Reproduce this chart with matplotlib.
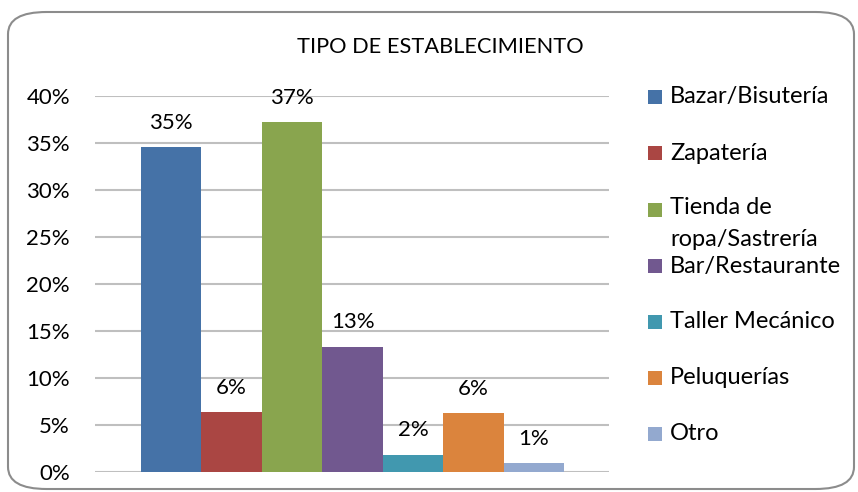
import matplotlib
matplotlib.use("Agg")
import matplotlib.pyplot as plt
from matplotlib.patches import FancyBboxPatch, Rectangle
from matplotlib.ticker import PercentFormatter

categories = ["Bazar/Bisutería", "Zapatería", "Tienda de\nropa/Sastrería",
              "Bar/Restaurante", "Taller Mecánico", "Peluquerías", "Otro"]
values = [34.5, 6.3, 37.2, 13.3, 1.8, 6.2, 0.9]
labels = ["35%", "6%", "37%", "13%", "2%", "6%", "1%"]
colors = ["#4572A7", "#AA4643", "#89A54E", "#71588F", "#4198AF", "#DB843D", "#93A9CF"]
yticks = [0, 5, 10, 15, 20, 25, 30, 35, 40]
title = "TIPO DE ESTABLECIMIENTO"

plt.rcParams['font.family'] = ['Lato', 'DejaVu Sans']
FS = 16
FS_LEG = 17
FS_TITLE = 15.7

W, H = 858, 492
fig = plt.figure(figsize=(W / 100, H / 100), dpi=100)

# rounded outer border
border = FancyBboxPatch((8 / W, 3 / H), (W - 12) / W, (H - 15) / H,
                        boxstyle="round,pad=0,rounding_size=0.045",
                        transform=fig.transFigure, facecolor="white",
                        edgecolor="#8C8C8C", linewidth=1.5, zorder=-5)
fig.patches.append(border)

ax = fig.add_axes([95 / W, 20.3 / H, 514 / W, 376 / H])
ax.set_zorder(2)
ax.set_facecolor("none")
x = list(range(len(values)))
ax.bar(x, values, width=1.0, color=colors, zorder=3)
ax.set_xlim(-0.5 - 0.76, len(values) - 0.5 + 0.74)
ax.set_ylim(0, 40)
ax.set_yticks(yticks)
ax.yaxis.set_major_formatter(PercentFormatter(decimals=0))
ax.tick_params(axis='y', length=0, pad=18, labelsize=FS)
ax.set_xticks([])
for s in ax.spines.values():
    s.set_visible(False)
ax.grid(axis='y', color="#BFBFBF", linewidth=1.5, zorder=0)

for xi, v, lab in zip(x, values, labels):
    ax.annotate(lab, (xi, v), xytext=(0, 17.5), textcoords="offset points",
                ha="center", va="center", fontsize=FS, zorder=4)

fig.text(440 / W, 1 - 47 / H, title, ha="center", va="center", fontsize=FS_TITLE,
         zorder=3)

# legend
leg_y = [97, 153, 210, 266, 322, 378, 434]
for cat, col, yy in zip(categories, colors, leg_y):
    fig.patches.append(Rectangle((648 / W, 1 - (yy + 7) / H), 14 / W, 14 / H,
                                 transform=fig.transFigure, facecolor=col,
                                 edgecolor="none", zorder=3))
    if "\n" in cat:
        fig.text(670 / W, 1 - (yy - 13) / H, cat, ha="left", va="top",
                 fontsize=FS_LEG, linespacing=1.65, zorder=3)
    else:
        fig.text(670 / W, 1 - yy / H, cat, ha="left", va="center",
                 fontsize=FS_LEG, zorder=3)

fig.savefig("out.png", dpi=100)
